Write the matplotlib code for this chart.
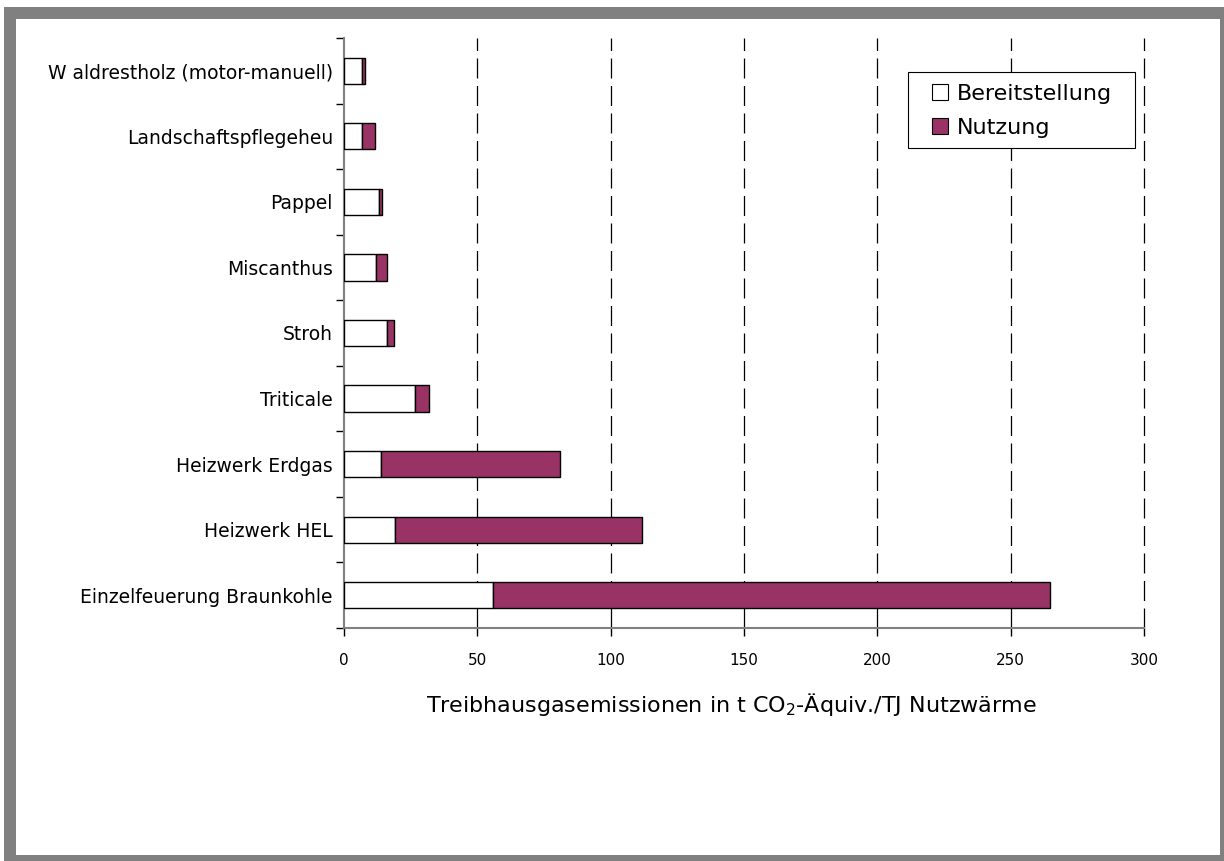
"""Treibhausgasemissionen verschiedener Waermebereitstellungen als gestapelte Balken"""

import matplotlib
matplotlib.use("Agg")
import matplotlib.pyplot as plt
from matplotlib.patches import Rectangle
from matplotlib.ticker import MultipleLocator

# data, bottom to top
categories = [
    "Einzelfeuerung Braunkohle",
    "Heizwerk HEL",
    "Heizwerk Erdgas",
    "Triticale",
    "Stroh",
    "Miscanthus",
    "Pappel",
    "Landschaftspflegeheu",
    "W aldrestholz (motor-manuell)",
]
bereitstellung = [55.8, 19.1, 13.7, 26.7, 16.2, 12.0, 13.1, 6.6, 6.6]
nutzung = [208.9, 92.8, 67.3, 5.0, 2.5, 4.3, 1.3, 5.0, 1.4]
x_ticks = [0, 50, 100, 150, 200, 250, 300]

plt.rcParams["font.family"] = ["DejaVu Sans"]

W, H = 1224, 861
fig = plt.figure(figsize=(W / 100, H / 100), dpi=100)
fig.patch.set_facecolor("white")
# grey frame round the chart
fig.patches.append(Rectangle((4 / W, 0), 1 - 4 / W, 1 - 7 / H,
                             transform=fig.transFigure, facecolor="#808080",
                             edgecolor="none", zorder=-10))
fig.patches.append(Rectangle((16 / W, 6 / H), (1220 - 16) / W, (855 - 19) / H,
                             transform=fig.transFigure, facecolor="white",
                             edgecolor="none", zorder=-9))

ax = fig.add_axes([344 / W, 1 - 628 / H, 800 / W, 590 / H])
ax.set_facecolor("none")

ypos = list(range(len(categories)))
ax.barh(ypos, bereitstellung, height=0.4, color="white", edgecolor="black",
        linewidth=1.0, label="Bereitstellung", zorder=3)
ax.barh(ypos, nutzung, left=bereitstellung, height=0.4, color="#993366",
        edgecolor="black", linewidth=1.0, label="Nutzung", zorder=3)

ax.set_xlim(0, 300)
ax.set_ylim(-0.5, len(categories) - 0.5)
ax.set_xticks(x_ticks)
ax.set_xticklabels([str(v) for v in x_ticks], fontsize=11)
ax.set_yticks(ypos)
ax.set_yticklabels(categories, fontsize=13.5)
ax.yaxis.set_minor_locator(MultipleLocator(1, offset=0.5))
ax.tick_params(axis="y", which="major", length=0, pad=8)
ax.tick_params(axis="y", which="minor", length=6, width=1.0, direction="out")
ax.tick_params(axis="x", length=6, width=1.0, direction="out", pad=12)

for v in x_ticks[1:]:
    ax.axvline(v, color="black", linewidth=0.9, dashes=(16, 6), zorder=1,
               clip_on=False)

for side in ("top", "right"):
    ax.spines[side].set_visible(False)
for side in ("left", "bottom"):
    ax.spines[side].set_color("#808080")
    ax.spines[side].set_linewidth(1.5)

fig.text(731 / W, 1 - 704 / H,
         "Treibhausgasemissionen in t CO$_2$-Äquiv./TJ Nutzwärme",
         fontsize=16, ha="center", va="center")

# legend: frame drawn separately so its size matches the reference box
ax.add_patch(Rectangle((908 / W, 1 - 148 / H), 227 / W, 76 / H,
                       transform=fig.transFigure, facecolor="white",
                       edgecolor="black", linewidth=0.8, zorder=4,
                       clip_on=False))
leg = ax.legend(loc="upper left", bbox_to_anchor=(932 / W, 1 - 84 / H),
                bbox_transform=fig.transFigure, fontsize=16, frameon=False,
                handlelength=0.72, handleheight=0.72, handletextpad=0.4,
                borderpad=0, labelspacing=0.62, borderaxespad=0)
leg.set_zorder(5)
for h in leg.legend_handles:
    h.set_linewidth(0.8)

fig.savefig("out.png", dpi=100, facecolor=fig.get_facecolor())
